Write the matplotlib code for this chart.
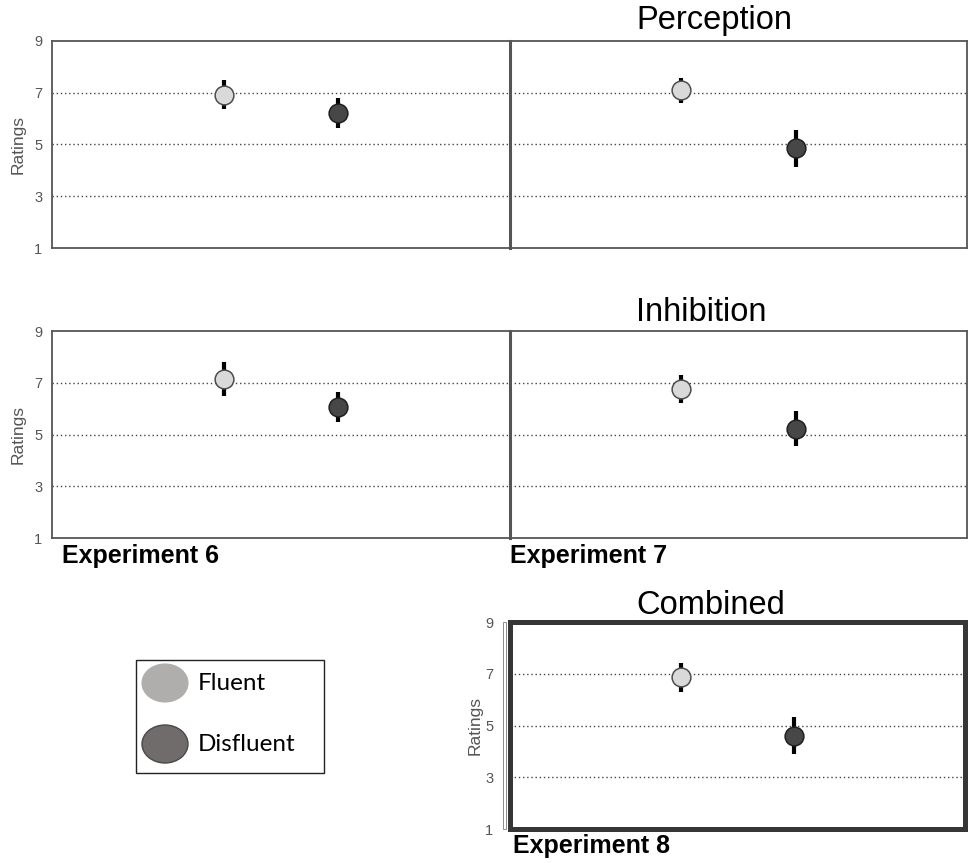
import matplotlib
matplotlib.use("Agg")
import matplotlib.pyplot as plt
from matplotlib.patches import Ellipse, Rectangle
import numpy as np

plt.rcParams['font.family'] = ['Liberation Sans', 'DejaVu Sans']

# Mean ratings and error bar half-widths per condition (Fluent, Disfluent)
conditions = ["Fluent", "Disfluent"]
perception_exp6 = [6.92, 6.22]
perception_exp6_err = [0.56, 0.58]
perception_exp7 = [7.10, 4.85]
perception_exp7_err = [0.48, 0.72]
inhibition_exp6 = [7.13, 6.05]
inhibition_exp6_err = [0.66, 0.58]
inhibition_exp7 = [6.76, 5.22]
inhibition_exp7_err = [0.55, 0.67]
combined_exp8 = [6.87, 4.60]
combined_exp8_err = [0.56, 0.72]

yticks = [1, 3, 5, 7, 9]
fill_colors = ["#d9d9d9", "#474747"]
edge_colors = ["#4d4d4d", "#1f1f1f"]

W, H = 969, 863
fig = plt.figure(figsize=(W / 100, H / 100), dpi=100)


def px_axes(x0, y0, x1, y1):
    return fig.add_axes([x0 / W, 1 - y1 / H, (x1 - x0) / W, (y1 - y0) / H])


def draw_points(ax, means, errs):
    x = np.arange(len(means))
    for i in range(len(means)):
        ax.errorbar(x[i], means[i], yerr=errs[i], fmt='none', ecolor='black',
                    elinewidth=3.0, capsize=0, zorder=3)
        ax.plot(x[i], means[i], 'o', markersize=13.5, markerfacecolor=fill_colors[i],
                markeredgecolor=edge_colors[i], markeredgewidth=1.1, zorder=4)
    ax.set_xlim(-1.5, 2.5)
    ax.set_ylim(1, 9)
    for g in [3, 5, 7]:
        ax.axhline(g, color='#444444', lw=1.0, ls=(0, (1, 2.0)), zorder=1)
    ax.set_xticks([])
    ax.set_yticks(yticks)
    ax.tick_params(axis='y', length=0, pad=7, labelsize=10.5, labelcolor='#555555')


def panel_pair(y0, y1, left_vals, left_err, right_vals, right_err):
    axl = px_axes(52, y0, 510, y1)
    axr = px_axes(510, y0, 967, y1)
    draw_points(axl, left_vals, left_err)
    draw_points(axr, right_vals, right_err)
    for ax in (axl, axr):
        for s in ax.spines.values():
            s.set_color('#555555')
            s.set_linewidth(1.3)
    axl.spines['right'].set_visible(False)
    axr.spines['left'].set_linewidth(2.2)
    axr.set_yticklabels([])
    axl.set_ylabel("Ratings", fontsize=12.5, color='#555555', labelpad=6)
    return axl, axr


panel_pair(41, 248, perception_exp6, perception_exp6_err,
           perception_exp7, perception_exp7_err)
panel_pair(331, 538, inhibition_exp6, inhibition_exp6_err,
           inhibition_exp7, inhibition_exp7_err)

# Combined panel with a heavy frame
axc = px_axes(510, 622, 965, 829)
draw_points(axc, combined_exp8, combined_exp8_err)
for s in axc.spines.values():
    s.set_color('#363636')
    s.set_linewidth(3.6)
axc.tick_params(axis='y', pad=12)
axc.set_ylabel("Ratings", fontsize=12.5, color='#555555', labelpad=2)
fig.add_artist(Rectangle((503 / W, 1 - 829 / H), 3 / W, 207 / H, transform=fig.transFigure,
                         fill=False, edgecolor='#8a8a8a', lw=0.7))

# Section titles
for label, yb in [("Perception", 29), ("Inhibition", 321), ("Combined", 614)]:
    fig.text(636 / W, 1 - yb / H, label, fontsize=23.5, ha='left', va='baseline', color='black')

# Experiment labels
for label, x, yb in [("Experiment 6", 62, 563), ("Experiment 7", 510, 563), ("Experiment 8", 513, 853)]:
    fig.text(x / W, 1 - yb / H, label, fontsize=18, fontweight='bold', ha='left',
             va='baseline', color='black')

# Legend box
fig.add_artist(Rectangle((136 / W, 1 - 773 / H), 188 / W, 113 / H, transform=fig.transFigure,
                         fill=False, edgecolor='#222222', lw=1.0))
fig.add_artist(Ellipse((165 / W, 1 - 683 / H), 46 / W, 38 / H, transform=fig.transFigure,
                       facecolor='#b0adad', edgecolor='#b0adad', lw=0.8))
fig.add_artist(Ellipse((165 / W, 1 - 744 / H), 46 / W, 38 / H, transform=fig.transFigure,
                       facecolor='#706c6c', edgecolor='#4a4848', lw=1.0))
legend_y = [683, 744]
for name, yc in zip(conditions, legend_y):
    fig.text(198 / W, 1 - yc / H, name, fontsize=17.5, ha='left', va='center',
             color='black', family=['Lato', 'DejaVu Sans'])

fig.savefig("out.png", dpi=100)
